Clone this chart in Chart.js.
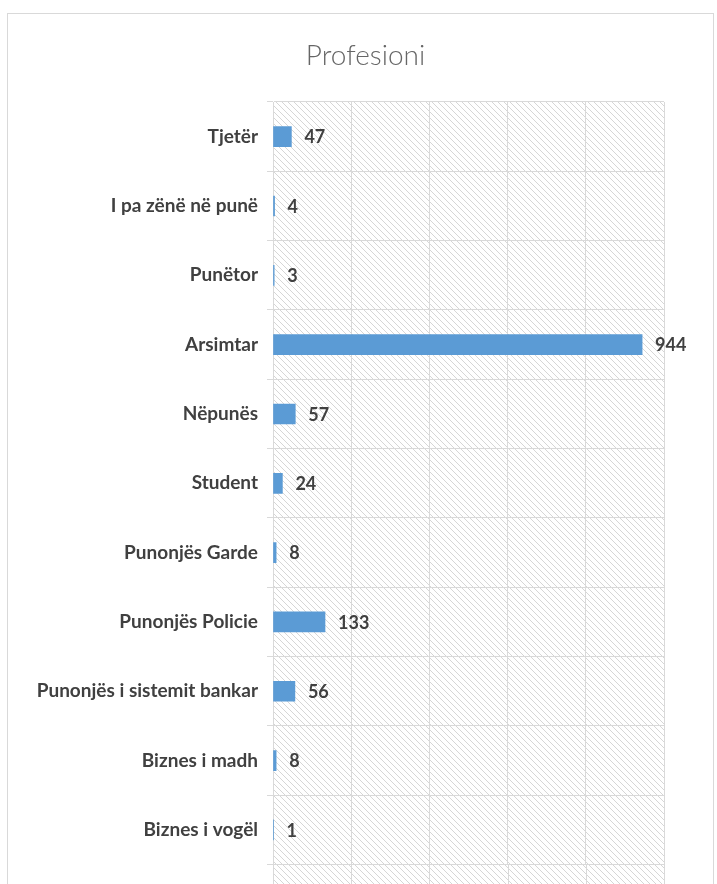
<!DOCTYPE html>
<html>
<head>
<meta charset="utf-8">
<script src="https://cdn.jsdelivr.net/npm/chart.js@4.4.0/dist/chart.umd.min.js"></script>
<style>
    html, body { margin: 0; padding: 0; background: #fff; overflow: hidden; }
    #frame {
        position: absolute;
        left: 7px;
        top: 13px;
        width: 705px;
        height: 900px;
        border: 1px solid #d9d9d9;
        background: #fff;
    }
    #wrap { width: 705px; height: 871px; }
</style>
</head>
<body>
<div id="frame"><div id="wrap"><canvas id="profChart"></canvas></div></div>
<script>
// Professions, top to bottom as shown
const categories = [
    'Tjetër',
    'I pa zënë në punë',
    'Punëtor',
    'Arsimtar',
    'Nëpunës',
    'Student',
    'Punonjës Garde',
    'Punonjës Policie',
    'Punonjës i sistemit bankar',
    'Biznes i madh',
    'Biznes i vogël'
];
const counts = [47, 4, 3, 944, 57, 24, 8, 133, 56, 8, 1];
const xTicks = [0, 200, 400, 600, 800, 1000];
const chartTitle = 'Profesioni';

const fontFamily = "Lato, 'Open Sans', sans-serif";
const gridColor = '#d9d9d9';

// Diagonal hatch used as the plot background
function makeHatch() {
    const size = 6;
    const tile = document.createElement('canvas');
    tile.width = size;
    tile.height = size;
    const c = tile.getContext('2d');
    c.strokeStyle = '#d6d6d6';
    c.lineWidth = 1;
    c.beginPath();
    c.moveTo(-1, -1);
    c.lineTo(size + 1, size + 1);
    c.moveTo(-1, size - 1);
    c.lineTo(1, size + 1);
    c.moveTo(size - 1, -1);
    c.lineTo(size + 1, 1);
    c.stroke();
    return c.createPattern(tile, 'repeat');
}

// Fill the plot with the hatch, running on past the bottom edge like the cropped original
const hatchBackground = {
    id: 'hatchBackground',
    beforeDraw(chart) {
        const { ctx, chartArea, scales } = chart;
        ctx.save();
        ctx.fillStyle = makeHatch();
        ctx.fillRect(chartArea.left, chartArea.top, chartArea.right - chartArea.left, chart.height - chartArea.top);
        // carry the vertical grid lines down to the canvas edge
        ctx.strokeStyle = gridColor;
        ctx.lineWidth = 1;
        xTicks.forEach(function (v) {
            const x = Math.round(scales.x.getPixelForValue(v)) + 0.5;
            ctx.beginPath();
            ctx.moveTo(x, chartArea.bottom);
            ctx.lineTo(x, chart.height);
            ctx.stroke();
        });
        // title, centred on the whole frame (slightly right like the original)
        ctx.font = '300 28px ' + fontFamily;
        ctx.fillStyle = '#666666';
        ctx.textAlign = 'center';
        ctx.textBaseline = 'middle';
        ctx.fillText(chartTitle, chart.width / 2 + 5, 42);
        ctx.restore();
    }
};

// Value labels to the right of each bar
const valueLabels = {
    id: 'valueLabels',
    afterDatasetsDraw(chart) {
        const ctx = chart.ctx;
        const meta = chart.getDatasetMeta(0);
        ctx.save();
        ctx.font = 'bold 18px ' + fontFamily;
        ctx.fillStyle = '#404040';
        ctx.textAlign = 'left';
        ctx.textBaseline = 'middle';
        meta.data.forEach(function (bar, i) {
            ctx.fillText(String(counts[i]), bar.x + 13, bar.y + 1);
        });
        ctx.restore();
    }
};

new Chart(document.getElementById('profChart'), {
    type: 'bar',
    data: {
        labels: categories,
        datasets: [
            {
                label: chartTitle,
                data: counts,
                backgroundColor: '#5b9bd5',
                borderWidth: 0,
                barThickness: 20
            }
        ]
    },
    options: {
        indexAxis: 'y',
        responsive: true,
        maintainAspectRatio: false,
        animation: false,
        layout: {
            padding: { left: 8, right: 49, top: 88, bottom: 18 }
        },
        plugins: {
            legend: { display: false },
            tooltip: { enabled: false },
            title: { display: false }
        },
        scales: {
            x: {
                min: 0,
                max: 1000,
                afterBuildTicks: function (scale) {
                    scale.ticks = xTicks.map(function (v) { return { value: v }; });
                },
                ticks: { display: false },
                grid: { color: gridColor, drawTicks: false },
                border: { display: false }
            },
            y: {
                afterFit: function (scale) {
                    scale.width = 257;
                },
                ticks: {
                    color: '#404040',
                    padding: 9,
                    font: { family: fontFamily, size: 19, weight: 'bold' }
                },
                grid: {
                    color: gridColor,
                    offset: true,
                    tickLength: 6
                },
                border: { display: true, color: gridColor }
            }
        }
    },
    plugins: [hatchBackground, valueLabels]
});
</script>
</body>
</html>
